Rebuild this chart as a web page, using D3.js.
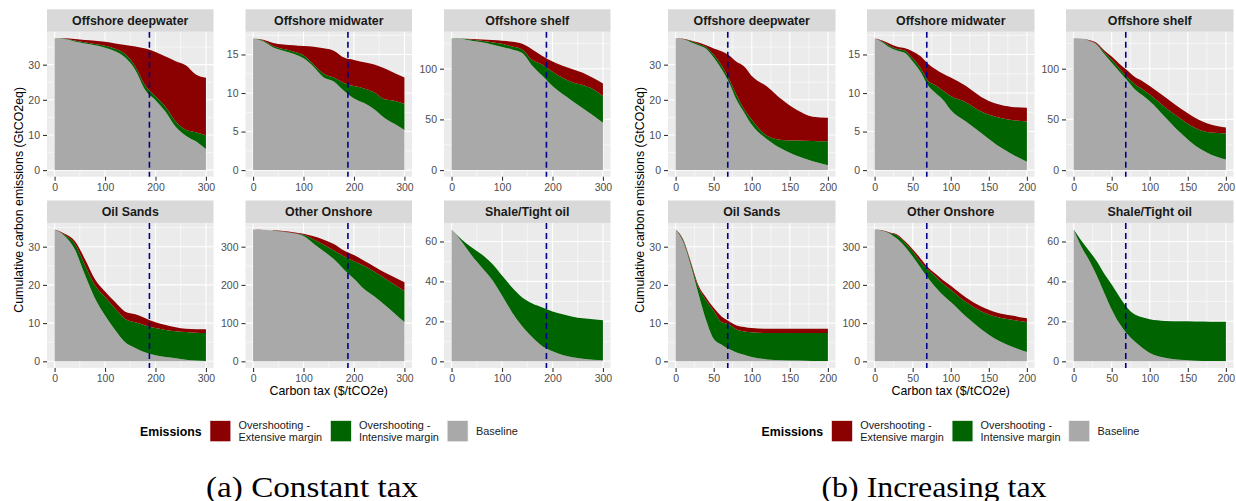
<!DOCTYPE html>
<html>
<head>
<meta charset="utf-8">
<script src="https://cdn.jsdelivr.net/npm/d3@7"></script>
<style>
  body { margin: 0; background: #ffffff; }
  svg { display: block; }
  text { font-family: "Liberation Sans", Arial, Helvetica, sans-serif; }
  text.caption { font-family: "Liberation Serif", "DejaVu Serif", serif; }
</style>
</head>
<body>
<svg id="chart" width="1236" height="501"></svg>
<script>
// ---------------------------------------------------------------------------
// Data: cumulative carbon emissions (GtCO2eq) by resource type vs carbon tax.
// For every facet three stacked levels are given:
//   baseline        – top of the baseline band
//   intensive       – baseline + overshooting on the intensive margin
//   extensive       – baseline + both overshooting margins (total)
// ---------------------------------------------------------------------------
const facets = ["Offshore deepwater", "Offshore midwater", "Offshore shelf",
                "Oil Sands", "Other Onshore", "Shale/Tight oil"];

const taxConstant   = [0, 20, 40, 60, 80, 100, 120, 140, 160, 180, 200, 220, 240, 260, 280, 300];
const taxIncreasing = [0, 10, 20, 30, 40, 50, 60, 70, 80, 90, 100, 120, 140, 160, 180, 200];

const xTicksConstant   = [0, 100, 200, 300];
const xTicksIncreasing = [0, 50, 100, 150, 200];

const yTicks = {
  "Offshore deepwater": [0, 10, 20, 30],
  "Offshore midwater":  [0, 5, 10, 15],
  "Offshore shelf":     [0, 50, 100],
  "Oil Sands":          [0, 10, 20, 30],
  "Other Onshore":      [0, 100, 200, 300],
  "Shale/Tight oil":    [0, 20, 40, 60]
};

// reference tax level marked with the dashed line
const taxMarkConstant   = 188;
const taxMarkIncreasing = 68.5;

// --- (a) constant tax ---
const baselineConstant = {
  "Offshore deepwater": [37.5, 37.3, 36.6, 36.0, 35.5, 34.8, 33.8, 32.0, 28.5, 22.7, 19.9, 16.6, 12.3, 9.8, 8.2, 6.0],
  "Offshore midwater":  [17.1, 16.7, 15.9, 15.5, 15.1, 14.5, 13.4, 12.0, 11.5, 10.3, 9.3, 8.7, 7.9, 6.8, 6.0, 5.2],
  "Offshore shelf":     [130, 129.5, 127.5, 126, 124, 121.5, 119, 115.5, 103, 93, 83, 75, 68, 61, 54, 46.7],
  "Oil Sands":          [34.5, 32.8, 29.3, 22.7, 16.5, 12.0, 8.2, 5.0, 3.5, 2.3, 1.6, 1.1, 0.8, 0.4, 0.2, 0.1],
  "Other Onshore":      [345, 344, 342, 339, 335, 328, 308, 288, 267.5, 240.6, 216, 189, 170, 149, 126, 103],
  "Shale/Tight oil":    [66, 60.0, 53.0, 47.0, 41.0, 33.0, 24.5, 17.5, 12.0, 7.5, 5.0, 3.2, 2.0, 1.3, 0.8, 0.5]
};
const intensiveConstant = {
  "Offshore deepwater": [37.5, 37.4, 36.9, 36.4, 35.9, 35.4, 34.5, 33.0, 29.5, 24.0, 21.0, 18.0, 13.8, 11.5, 10.8, 9.9],
  "Offshore midwater":  [17.1, 16.8, 16.1, 15.7, 15.4, 14.9, 13.7, 12.5, 12.0, 11.3, 10.9, 10.6, 10.1, 9.2, 9.0, 8.6],
  "Offshore shelf":     [130, 129.7, 128.5, 127.5, 126, 124.5, 121.8, 119, 108.5, 104, 97, 91, 86.5, 84, 80, 73],
  "Oil Sands":          [34.5, 33.1, 30.8, 25.3, 19.9, 16.8, 13.8, 11.1, 10.2, 9.4, 8.7, 8.2, 7.9, 7.7, 7.5, 7.4],
  "Other Onshore":      [345, 344, 342.5, 340, 336, 331, 319, 305, 290, 275, 262, 250, 235, 218, 201, 184],
  "Shale/Tight oil":    [66, 61.0, 57.0, 53.5, 49.0, 43.0, 37.0, 32.0, 29.0, 27.0, 25.0, 23.5, 22.3, 21.5, 21.0, 20.6]
};
const extensiveConstant = {
  "Offshore deepwater": [37.5, 37.5, 37.3, 37.0, 36.8, 36.5, 36.0, 35.6, 35.2, 34.6, 33.6, 32.3, 31.0, 29.8, 27.2, 26.3],
  "Offshore midwater":  [17.1, 16.9, 16.5, 16.3, 16.2, 16.1, 16.0, 15.8, 15.5, 14.6, 14.3, 14.0, 13.7, 13.2, 12.6, 12.0],
  "Offshore shelf":     [130, 129.9, 129.3, 128.7, 128.2, 127.5, 126.6, 124.5, 119, 112.5, 107, 103, 99.5, 96, 91, 85.5],
  "Oil Sands":          [34.5, 33.4, 31.5, 26.8, 21.5, 18.3, 15.5, 13.0, 12.3, 11.3, 10.2, 9.5, 8.9, 8.5, 8.4, 8.4],
  "Other Onshore":      [345, 344.5, 343, 341, 338, 334, 327, 318, 307, 290, 278, 263, 248, 233, 220, 207],
  "Shale/Tight oil":    [66, 61.0, 57.0, 53.5, 49.0, 43.0, 37.0, 32.0, 29.0, 27.0, 25.0, 23.5, 22.3, 21.5, 21.0, 20.6]
};

// --- (b) increasing tax ---
const baselineIncreasing = {
  "Offshore deepwater": [37.5, 37.2, 36.4, 35.5, 34.5, 32.0, 28.8, 25.0, 20.0, 16.4, 12.9, 8.8, 6.0, 4.0, 2.5, 1.4],
  "Offshore midwater":  [17.1, 16.6, 15.9, 15.5, 15.2, 14.1, 12.8, 11.0, 10.0, 9.1, 7.8, 6.3, 4.8, 3.3, 2.1, 1.1],
  "Offshore shelf":     [130, 129.7, 127.5, 124, 114.7, 105.8, 97.3, 88.8, 80, 74, 68, 52.5, 37, 24, 15.5, 10.5],
  "Oil Sands":          [34.5, 31.2, 25.0, 17.7, 10.8, 5.9, 4.4, 3.2, 2.3, 1.7, 1.1, 0.5, 0.3, 0.2, 0.1, 0.1],
  "Other Onshore":      [345, 342, 334, 320, 300, 274, 246, 218, 194, 173, 155, 117, 84, 57, 38.6, 24.4],
  "Shale/Tight oil":    [66, 57.5, 50.8, 43.2, 34.5, 26.0, 19.0, 13.9, 10.0, 6.8, 4.2, 1.8, 0.8, 0.3, 0.1, 0.1]
};
const intensiveIncreasing = {
  "Offshore deepwater": [37.5, 37.3, 36.7, 35.9, 35.0, 32.8, 29.9, 26.0, 21.4, 17.3, 14.3, 9.8, 8.6, 8.4, 8.3, 8.2],
  "Offshore midwater":  [17.1, 16.7, 16.1, 15.7, 15.5, 14.5, 13.3, 11.6, 11.0, 10.3, 9.6, 8.8, 7.6, 6.9, 6.5, 6.3],
  "Offshore shelf":     [130, 129.8, 127.8, 124.5, 116.5, 109, 100.5, 92, 85, 80, 74.5, 62, 51, 41.5, 37, 36.2],
  "Oil Sands":          [34.5, 31.6, 25.6, 19.4, 16.0, 13.2, 10.3, 9.7, 8.3, 7.8, 7.6, 7.4, 7.4, 7.4, 7.4, 7.4],
  "Other Onshore":      [345, 342.5, 336, 329, 310.5, 288, 261, 240, 221.7, 203, 187.6, 155, 131, 116.3, 108.7, 103],
  "Shale/Tight oil":    [66, 60.5, 55.5, 50.3, 44.0, 38.5, 32.5, 27.0, 23.5, 22.0, 21.0, 20.2, 20.0, 19.9, 19.8, 19.8]
};
const extensiveIncreasing = {
  "Offshore deepwater": [37.5, 37.4, 36.9, 36.3, 35.5, 34.6, 33.8, 32.7, 30.8, 29.5, 26.8, 23.8, 20.0, 17.0, 15.2, 14.9],
  "Offshore midwater":  [17.1, 16.8, 16.4, 16.0, 15.8, 15.4, 14.8, 13.8, 13.1, 12.5, 12.0, 10.9, 9.5, 8.6, 8.2, 8.1],
  "Offshore shelf":     [130, 129.9, 128.3, 125.5, 118.2, 112, 105, 98.7, 92, 88, 83, 72, 61, 51.5, 45, 42.1],
  "Oil Sands":          [34.5, 31.9, 26.0, 19.9, 16.7, 14.0, 11.8, 10.5, 9.4, 9.0, 8.7, 8.5, 8.5, 8.5, 8.5, 8.5],
  "Other Onshore":      [345, 343, 337, 331.5, 314, 293.5, 270, 246.5, 229, 212, 197.5, 167, 143.3, 128, 119.6, 113],
  "Shale/Tight oil":    [66, 60.5, 55.5, 50.3, 44.0, 38.5, 32.5, 27.0, 23.5, 22.0, 21.0, 20.2, 20.0, 19.9, 19.8, 19.8]
};

const legendLabels = [["Overshooting -", "Extensive margin"], ["Overshooting -", "Intensive margin"], ["Baseline"]];
const legendColors = ["#8B0000", "#006400", "#A9A9A9"];
const captions = ["(a) Constant tax", "(b) Increasing tax"];

// ---------------------------------------------------------------------------
// Layout
// ---------------------------------------------------------------------------
const PANEL_H = 145;
const STRIP_H = 22.4;
const ROW_TOPS = [31.7, 222.9];
const COL_EXTENSIVE = legendColors[0], COL_INTENSIVE = legendColors[1], COL_BASE = legendColors[2];

const svg = d3.select("#chart");
svg.append("rect").attr("width", 1236).attr("height", 501).attr("fill", "#ffffff");

function minorBreaks(majors, domain) {
  const out = [];
  const step = majors[1] - majors[0];
  const cand = [majors[0] - step / 2];
  for (let i = 0; i < majors.length - 1; i++) cand.push((majors[i] + majors[i + 1]) / 2);
  cand.push(majors[majors.length - 1] + step / 2);
  cand.forEach(v => { if (v >= domain[0] && v <= domain[1]) out.push(v); });
  return out;
}

function drawFigure(cfg) {
  const g = svg.append("g");

  facets.forEach((name, i) => {
    const col = i % 3, row = Math.floor(i / 3);
    const x0 = cfg.panelX[col], top = ROW_TOPS[row], W = cfg.panelW;
    const base = cfg.baseline[name], mid = cfg.intensive[name], tot = cfg.extensive[name];
    const data = cfg.tax.map((t, k) => ({ t, b: base[k], m: mid[k], e: tot[k] }));

    const tMax = d3.max(cfg.tax), tPad = tMax * 0.05;
    const x = d3.scaleLinear().domain([-tPad, tMax + tPad]).range([x0, x0 + W]);
    const vMax = d3.max(tot), vPad = vMax * 0.05;
    const y = d3.scaleLinear().domain([-vPad, vMax + vPad]).range([top + PANEL_H, top]);

    const p = g.append("g");
    // panel background
    p.append("rect").attr("x", x0).attr("y", top).attr("width", W).attr("height", PANEL_H)
      .attr("fill", "#EBEBEB");

    // grid
    const yMaj = yTicks[name];
    const yMin = minorBreaks(yMaj, y.domain());
    const xMin = minorBreaks(cfg.xTicks, x.domain());
    p.selectAll(".gmy").data(yMin).join("line")
      .attr("x1", x0).attr("x2", x0 + W).attr("y1", d => y(d)).attr("y2", d => y(d))
      .attr("stroke", "#ffffff").attr("stroke-width", 0.55);
    p.selectAll(".gmx").data(xMin).join("line")
      .attr("y1", top).attr("y2", top + PANEL_H).attr("x1", d => x(d)).attr("x2", d => x(d))
      .attr("stroke", "#ffffff").attr("stroke-width", 0.55);
    p.selectAll(".gMy").data(yMaj).join("line")
      .attr("x1", x0).attr("x2", x0 + W).attr("y1", d => y(d)).attr("y2", d => y(d))
      .attr("stroke", "#ffffff").attr("stroke-width", 1.1);
    p.selectAll(".gMx").data(cfg.xTicks).join("line")
      .attr("y1", top).attr("y2", top + PANEL_H).attr("x1", d => x(d)).attr("x2", d => x(d))
      .attr("stroke", "#ffffff").attr("stroke-width", 1.1);

    // stacked areas
    const curve = d3.curveMonotoneX;
    const bands = [
      { fill: COL_BASE,      y0: d => y(0),   y1: d => y(d.b) },
      { fill: COL_INTENSIVE, y0: d => y(d.b), y1: d => y(d.m) },
      { fill: COL_EXTENSIVE, y0: d => y(d.m), y1: d => y(d.e) }
    ];
    bands.forEach(bd => {
      p.append("path").datum(data)
        .attr("d", d3.area().x(d => x(d.t)).y0(bd.y0).y1(bd.y1).curve(curve))
        .attr("fill", bd.fill);
    });

    // reference tax level
    p.append("line")
      .attr("x1", x(cfg.mark)).attr("x2", x(cfg.mark))
      .attr("y1", top).attr("y2", top + PANEL_H)
      .attr("stroke", "#00008B").attr("stroke-width", 1.6)
      .attr("stroke-dasharray", "6,4");

    // strip
    p.append("rect").attr("x", x0).attr("y", top - STRIP_H).attr("width", W).attr("height", STRIP_H)
      .attr("fill", "#D9D9D9");
    p.append("text").attr("x", x0 + W / 2).attr("y", top - STRIP_H / 2).attr("dy", "0.36em")
      .attr("text-anchor", "middle").attr("font-weight", "bold").attr("font-size", "12.4px")
      .attr("fill", "#1A1A1A").text(name);

    // axes
    const yAxis = p.append("g").attr("transform", `translate(${x0},0)`)
      .call(d3.axisLeft(y).tickValues(yMaj).tickSize(4).tickPadding(3).tickFormat(d3.format("d")));
    const xAxis = p.append("g").attr("transform", `translate(0,${top + PANEL_H})`)
      .call(d3.axisBottom(x).tickValues(cfg.xTicks).tickSize(4).tickPadding(3).tickFormat(d3.format("d")));
    [yAxis, xAxis].forEach(a => {
      a.select(".domain").remove();
      a.selectAll(".tick line").attr("stroke", "#333333").attr("stroke-width", 1.1);
      a.selectAll(".tick text").attr("fill", "#4D4D4D").attr("font-size", "10.5px");
    });
  });

  // axis titles
  const midPanel = cfg.panelX[1] + cfg.panelW / 2;
  g.append("text").attr("x", midPanel).attr("y", 395.3).attr("text-anchor", "middle")
    .attr("font-size", "12.4px").attr("fill", "#000").text("Carbon tax ($/tCO2e)");
  g.append("text")
    .attr("transform", `translate(${cfg.yTitleX},${(ROW_TOPS[0] + ROW_TOPS[1] + PANEL_H) / 2}) rotate(-90)`)
    .attr("text-anchor", "middle").attr("font-size", "12.4px").attr("fill", "#000")
    .text("Cumulative carbon emissions (GtCO2eq)");

  // legend
  const L = cfg.legendX;
  const lg = g.append("g");
  lg.append("text").attr("x", L).attr("y", 436.4).attr("font-weight", "bold")
    .attr("font-size", "12.3px").attr("fill", "#000").text("Emissions");
  const keyOffsets = [70, 190.5, 307.2];
  const textOffsets = [98.6, 219, 336];
  legendLabels.forEach((lines, k) => {
    lg.append("rect").attr("x", L + keyOffsets[k]).attr("y", 420.7).attr("width", 20.8).attr("height", 21)
      .attr("fill", legendColors[k]).attr("stroke", "#f2f2f2").attr("stroke-width", 0.6);
    const t = lg.append("text").attr("font-size", "10.9px").attr("fill", "#1A1A1A");
    if (lines.length === 2) {
      lines.forEach((ln, j) => {
        t.append("tspan").attr("x", L + textOffsets[k]).attr("y", 429.4 + j * 11.4).text(ln);
      });
    } else {
      t.attr("x", L + textOffsets[k]).attr("y", 435.3).text(lines[0]);
    }
  });

  // caption
  g.append("text").attr("class", "caption")
    .attr("x", cfg.captionX).attr("y", 496.5).attr("text-anchor", "middle")
    .attr("font-size", "28.5px")
    .attr("textLength", cfg.captionW).attr("lengthAdjust", "spacingAndGlyphs")
    .attr("fill", "#000").text(cfg.caption);
}

drawFigure({
  panelX: [47, 245.5, 444], panelW: 166.5,
  tax: taxConstant, xTicks: xTicksConstant, mark: taxMarkConstant,
  baseline: baselineConstant, intensive: intensiveConstant, extensive: extensiveConstant,
  yTitleX: 23.3, legendX: 140, caption: captions[0], captionX: 312, captionW: 212
});

drawFigure({
  panelX: [668, 867, 1066], panelW: 167.5,
  tax: taxIncreasing, xTicks: xTicksIncreasing, mark: taxMarkIncreasing,
  baseline: baselineIncreasing, intensive: intensiveIncreasing, extensive: extensiveIncreasing,
  yTitleX: 644.3, legendX: 761.6, caption: captions[1], captionX: 934, captionW: 225
});
</script>
</body>
</html>
